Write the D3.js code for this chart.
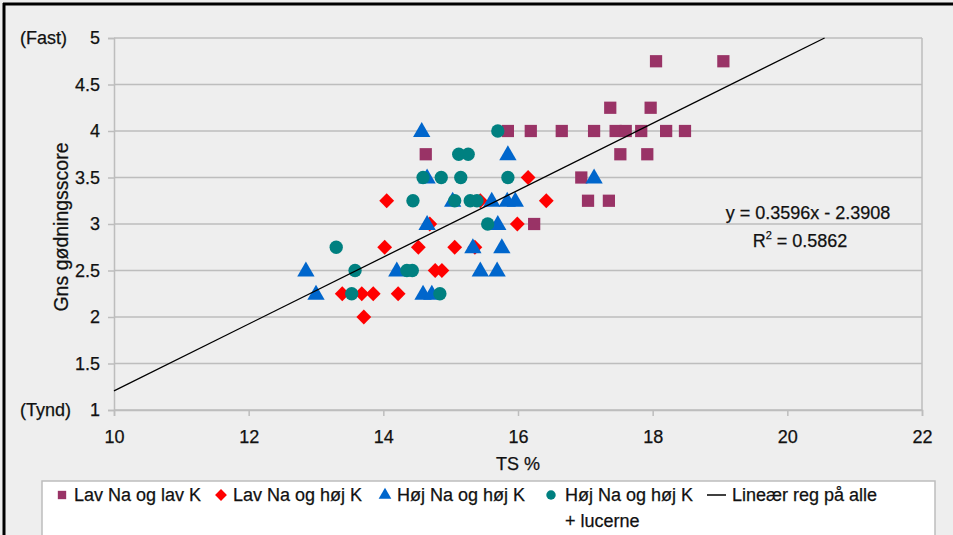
<!DOCTYPE html>
<html><head><meta charset="utf-8">
<script src="https://cdn.jsdelivr.net/npm/d3@7"></script>
<style>
body{margin:0;background:#eeeeee;}
text{font-family:"Liberation Sans",Arial,sans-serif;fill:#111;stroke:#111;stroke-width:0.25px;}
</style></head><body>
<svg id="c" width="953" height="535"></svg>
<script>
// ---- data ----
const xTicks = [10,12,14,16,18,20,22];
const yTicks = [1,1.5,2,2.5,3,3.5,4,4.5,5];
const yTickLabels = ["1","1.5","2","2.5","3","3.5","4","4.5","5"];
const yEndLabels = [{v:1,t:"(Tynd)"},{v:5,t:"(Fast)"}];
const seriesNames = ["Lav Na og lav K","Lav Na og høj K","Høj Na og høj K","Høj Na og høj K"];
const seriesNameLine2 = ["","","","+ lucerne"];
const lineName = "Lineær reg på alle";
const regSlope = 0.3596, regIntercept = -2.3908;
const eqText = "y = 0.3596x - 2.3908";
const r2Text = "0.5862";

const lavLavX = [15.85,16.19,16.65,17.13,17.45,17.6,17.83,18.2,18.48,18.05,19.05,17.37,17.97,17.52,17.92,14.63,16.94,17.04,17.35,16.24];
const lavLavY = [4,4,4,4,4,4,4,4,4,4.75,4.75,4.25,4.25,3.75,3.75,3.75,3.5,3.25,3.25,3];

const lavHojX = [14.05,14.02,14.52,15.06,15.44,16.15,16.42,15.99,14.69,14.77,14.87,13.39,13.68,13.85,14.22,13.71,15.36];
const lavHojY = [3.25,2.75,2.75,2.75,3.25,3.5,3.25,3,3,2.5,2.5,2.25,2.25,2.25,2.25,2,2.75];

const hojHojX = [14.57,15.85,17.13,14.65,14.65,15.03,15.61,15.84,15.96,15.7,15.33,15.76,12.85,14.2,15.44,15.69,13.0,14.59,14.72];
const hojHojY = [4,3.75,3.5,3.5,3,3.25,3.25,3.25,3.25,3,2.75,2.75,2.5,2.5,2.5,2.5,2.25,2.25,2.25];

const lucerneX = [15.7,15.12,15.26,14.59,14.86,15.15,15.85,14.44,15.06,15.29,15.39,15.55,13.3,13.58,14.35,14.43,13.53,14.84];
const lucerneY = [4,3.75,3.75,3.5,3.5,3.5,3.5,3.25,3.25,3.25,3.25,3,2.75,2.5,2.5,2.5,2.25,2.25];

// ---- chart ----
const svg = d3.select("#c");
const L=114,R=922,T=38,B=410;
const FS=18;
const x = d3.scaleLinear().domain([10,22]).range([L,R]);
const y = d3.scaleLinear().domain([1,5]).range([B,T]);
const grid="#bdbdbd";

// outer frame
svg.append("line").attr("x1",3).attr("x2",953).attr("y1",4).attr("y2",4).attr("stroke","#000").attr("stroke-width",3);
svg.append("line").attr("x1",4).attr("x2",4).attr("y1",3).attr("y2",535).attr("stroke","#000").attr("stroke-width",3);

// gridlines
svg.append("g").selectAll("line").data(yTicks).join("line")
  .attr("x1",L).attr("x2",R).attr("y1",d=>y(d)).attr("y2",d=>y(d))
  .attr("stroke",grid).attr("stroke-width",1.5);
svg.append("line").attr("x1",R).attr("x2",R).attr("y1",T).attr("y2",B).attr("stroke",grid).attr("stroke-width",1.5);

// axes
const yAxis = d3.axisLeft(y).tickValues(yTicks).tickSize(6).tickPadding(8).tickFormat((d,i)=>yTickLabels[i]);
const gy = svg.append("g").attr("transform",`translate(${L},0)`).call(yAxis);
gy.select(".domain").attr("stroke",grid).attr("stroke-width",1.5);
gy.selectAll(".tick line").attr("stroke",grid).attr("stroke-width",1.5);
gy.selectAll(".tick text").attr("font-size",FS).attr("font-family","Liberation Sans, Arial, sans-serif").attr("fill","#111");
svg.append("g").selectAll("text").data(yEndLabels).join("text")
  .attr("x",20).attr("y",d=>y(d.v)).attr("dy","0.32em").attr("font-size",FS).text(d=>d.t);

const xAxis = d3.axisBottom(x).tickValues(xTicks).tickSize(6).tickPadding(14).tickFormat(d3.format("d"));
const gx = svg.append("g").attr("transform",`translate(0,${B})`).call(xAxis);
gx.select(".domain").attr("stroke",grid).attr("stroke-width",1.5);
gx.selectAll(".tick line").attr("stroke",grid).attr("stroke-width",1.5);
gx.selectAll(".tick text").attr("font-size",FS).attr("font-family","Liberation Sans, Arial, sans-serif").attr("fill","#111");

// axis titles
svg.append("text").attr("x",x(16)).attr("y",470).attr("text-anchor","middle").attr("font-size",FS).text("TS %");
svg.append("text").attr("transform",`translate(68,${227}) rotate(-90)`).attr("text-anchor","middle").attr("font-size",19.5).text("Gns gødningsscore");

// symbols
const diamond = {draw(ctx,size){const r=Math.sqrt(size/2);ctx.moveTo(0,-r);ctx.lineTo(r,0);ctx.lineTo(0,r);ctx.lineTo(-r,0);ctx.closePath();}};
const colors=["#993366","#ff0000","#0066cc","#008080"];
const shapes=[d3.symbolSquare,diamond,d3.symbolTriangle,d3.symbolCircle];
const sizes=[150,110,130,140];
const sets=[[lavLavX,lavLavY],[lavHojX,lavHojY],[hojHojX,hojHojY],[lucerneX,lucerneY]];
sets.forEach(([xs,ys],k)=>{
  const data = xs.map((v,i)=>[v,ys[i]]);
  const sym = d3.symbol().type(shapes[k]).size(sizes[k]);
  svg.append("g").selectAll("path").data(data).join("path")
    .attr("d",sym).attr("fill",colors[k])
    .attr("transform",d=>`translate(${x(d[0])},${y(d[1])+(k===2?1:0)})`);
});

// regression line
const xEnd = (5 - regIntercept)/regSlope;
svg.append("line").attr("x1",x(10)).attr("y1",y(regSlope*10+regIntercept))
  .attr("x2",x(xEnd)).attr("y2",y(5)).attr("stroke","#000").attr("stroke-width",1.3);

// equation
svg.append("text").attr("x",808).attr("y",219).attr("text-anchor","middle").attr("font-size",FS).text(eqText);
const r2 = svg.append("text").attr("x",800).attr("y",247).attr("text-anchor","middle").attr("font-size",FS);
r2.append("tspan").text("R");
r2.append("tspan").attr("dy",-8).attr("font-size",11).text("2");
r2.append("tspan").attr("dy",8).text(" = "+r2Text);

// legend
svg.append("rect").attr("x",42).attr("y",481).attr("width",893).attr("height",60).attr("fill","#fff").attr("stroke","#bdbdbd").attr("stroke-width",1.5);
const lgSym=[62,221,385,551], lgTxt=[74,233,397,565];
seriesNames.forEach((n,k)=>{
  const sym=d3.symbol().type(shapes[k]).size(70);
  svg.append("path").attr("d",sym).attr("fill",colors[k]).attr("transform",`translate(${lgSym[k]},${495})`);
  svg.append("text").attr("x",lgTxt[k]).attr("y",501).attr("font-size",FS).text(n);
  if(seriesNameLine2[k]) svg.append("text").attr("x",lgTxt[k]).attr("y",527).attr("font-size",FS).text(seriesNameLine2[k]);
});
svg.append("line").attr("x1",707).attr("x2",726).attr("y1",495).attr("y2",495).attr("stroke","#000").attr("stroke-width",1.5);
svg.append("text").attr("x",732).attr("y",501).attr("font-size",FS).text(lineName);
</script></body></html>
